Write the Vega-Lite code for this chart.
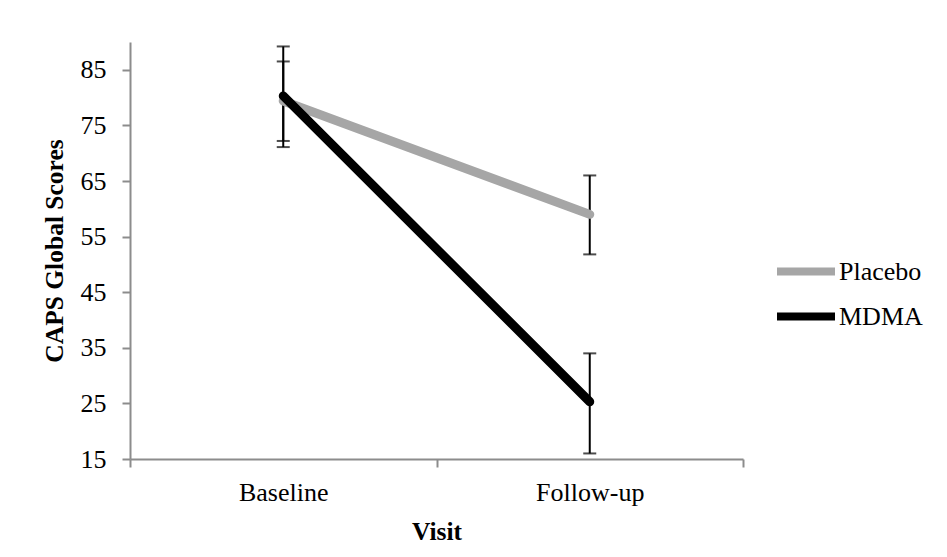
{
  "$schema": "https://vega.github.io/schema/vega-lite/v6.json",
  "autosize": "none",
  "padding": {"left": 130, "top": 42, "right": 204, "bottom": 98},
  "width": 613,
  "height": 417,
  "background": "white",
  "config": {
    "view": {"stroke": null},
    "font": "Liberation Serif",
    "axis": {
      "labelFont": "Liberation Serif",
      "titleFont": "Liberation Serif",
      "labelFontSize": 26,
      "titleFontSize": 25.5,
      "labelColor": "black",
      "titleColor": "black",
      "titleFontWeight": "bold",
      "domainColor": "#8c8c8c",
      "domainWidth": 2,
      "tickColor": "#8c8c8c",
      "tickWidth": 2,
      "tickSize": 8,
      "grid": false
    },
    "legend": {"labelFont": "Liberation Serif", "labelFontSize": 26, "labelColor": "black"}
  },
  "data": {
    "values": [
      {"group": "Placebo", "visit": "Baseline", "mean": 79.4, "lo": 72.2, "hi": 86.5},
      {"group": "MDMA", "visit": "Baseline", "mean": 80.3, "lo": 71.1, "hi": 89.2},
      {"group": "Placebo", "visit": "Follow-up", "mean": 59.0, "lo": 51.8, "hi": 66.0},
      {"group": "MDMA", "visit": "Follow-up", "mean": 25.3, "lo": 16.0, "hi": 34.0}
    ]
  },
  "encoding": {
    "x": {
      "field": "visit",
      "type": "nominal",
      "sort": ["Baseline", "Follow-up"],
      "scale": {"paddingInner": 0, "paddingOuter": 0},
      "axis": {"title": "Visit", "labelAngle": 0, "tickBand": "extent", "labelPadding": 12, "titlePadding": 14}
    }
  },
  "layer": [
    {
      "mark": {"type": "rule", "color": "black", "strokeWidth": 2},
      "encoding": {
        "y": {"field": "lo", "type": "quantitative"},
        "y2": {"field": "hi"}
      }
    },
    {
      "mark": {"type": "tick", "color": "black", "thickness": 2, "size": 13, "orient": "horizontal"},
      "encoding": {"y": {"field": "lo", "type": "quantitative"}}
    },
    {
      "mark": {"type": "tick", "color": "black", "thickness": 2, "size": 13, "orient": "horizontal"},
      "encoding": {"y": {"field": "hi", "type": "quantitative"}}
    },
    {
      "mark": {"type": "line", "strokeWidth": 9, "strokeCap": "round", "strokeJoin": "round"},
      "encoding": {
        "y": {
          "field": "mean",
          "type": "quantitative",
          "scale": {"domain": [15, 90], "nice": false, "zero": false},
          "axis": {"title": "CAPS Global Scores", "values": [15, 25, 35, 45, 55, 65, 75, 85], "labelPadding": 16, "titlePadding": 13}
        },
        "color": {
          "field": "group",
          "type": "nominal",
          "scale": {"domain": ["Placebo", "MDMA"], "range": ["#a6a6a6", "#000000"]},
          "legend": {
            "title": null,
            "orient": "none",
            "legendX": 643,
            "legendY": 217,
            "symbolType": "stroke",
            "symbolSize": 3364,
            "symbolStrokeWidth": 8,
            "labelOffset": 0,
            "clipHeight": 25,
            "rowPadding": 18
          }
        },
        "order": {"field": "visit"}
      }
    }
  ],
  "resolve": {"scale": {"y": "shared"}}
}
